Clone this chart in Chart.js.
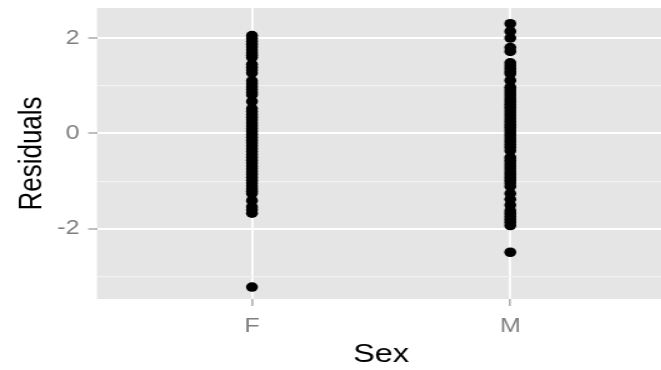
<!DOCTYPE html>
<html>
<head>
<meta charset="utf-8">
<script src="https://cdn.jsdelivr.net/npm/chart.js@4"></script>
<style>
  html, body { margin: 0; padding: 0; background: #fff; overflow: hidden; }
  /* the original picture is stretched sideways, so the whole chart is scaled in x */
  #wrap { width: 537px; height: 370px; transform: scaleX(1.25); transform-origin: 0 0; }
</style>
</head>
<body>
<div id="wrap"><canvas id="residChart" width="537" height="370"></canvas></div>
<script>
// Categories on the x axis
let sexLabels = ['F', 'M'];

// Residuals, female group
let residF = [
  2.05, 1.99, 1.93, 1.87, 1.81, 1.75, 1.69, 1.64, 1.59,
  1.45, 1.39, 1.33, 1.27,
  1.10, 1.04, 0.98, 0.92, 0.86, 0.81,
  0.67,
  0.52, 0.46, 0.40, 0.34, 0.28, 0.22, 0.16, 0.10, 0.04,
  -0.02, -0.08, -0.14, -0.20, -0.26, -0.32, -0.38, -0.44, -0.50,
  -0.56, -0.62, -0.68, -0.74, -0.80, -0.86, -0.92, -0.98, -1.04,
  -1.10, -1.16, -1.21, -1.26,
  -1.41,
  -1.54, -1.60, -1.67,
  -3.22
];

// Residuals, male group
let residM = [
  2.30, 2.14, 2.00, 1.80, 1.72,
  1.48, 1.42, 1.36, 1.30, 1.25,
  1.11,
  0.97, 0.91, 0.85, 0.79, 0.73, 0.67, 0.61, 0.55, 0.49, 0.43,
  0.37, 0.31, 0.25, 0.19, 0.13, 0.07, 0.01, -0.05, -0.11, -0.17,
  -0.23, -0.29, -0.36,
  -0.50, -0.56, -0.62, -0.68, -0.74, -0.80, -0.86, -0.92, -0.98, -1.04, -1.11,
  -1.26, -1.38, -1.50,
  -1.62, -1.68, -1.74, -1.80, -1.86, -1.93,
  -2.49
];

// y axis ticks shown as labels
let yTickLabels = [-2, 0, 2];

const fontFamily = "'Liberation Sans', Arial, sans-serif";

// grey panel behind the plot, ggplot style
const panelBg = {
  id: 'panelBg',
  beforeDraw(chart) {
    const a = chart.chartArea;
    const c = chart.ctx;
    c.save();
    c.fillStyle = '#e5e5e5';
    c.fillRect(a.left, a.top, a.right - a.left, a.bottom - a.top);
    c.restore();
  }
};

function toPoints(x, values) {
  return values.map(v => ({ x: x, y: v }));
}

let ctx = document.getElementById('residChart').getContext('2d');
let residChart = new Chart(ctx, {
  type: 'scatter',
  data: {
    datasets: [
      { label: sexLabels[0], data: toPoints(1, residF) },
      { label: sexLabels[1], data: toPoints(2, residM) }
    ]
  },
  options: {
    responsive: false,
    animation: false,
    layout: { padding: { top: 8, right: 0, bottom: 0, left: 0 } },
    elements: {
      point: { radius: 4.8, backgroundColor: '#000', borderColor: '#000', borderWidth: 0, pointStyle: 'circle' }
    },
    plugins: { legend: { display: false }, tooltip: { enabled: false } },
    scales: {
      x: {
        type: 'linear',
        min: 0.4,
        max: 2.6,
        afterBuildTicks: s => { s.ticks = sexLabels.map((l, i) => ({ value: i + 1 })); },
        afterFit: s => { s.height = 71; s.paddingLeft = 0; s.paddingRight = 0; },
        border: { display: false },
        grid: { color: '#ffffff', lineWidth: 1.8, tickColor: '#7f7f7f', tickLength: 7, tickWidth: 1 },
        ticks: {
          padding: 8,
          color: '#7f7f7f',
          font: { family: fontFamily, size: 20 },
          callback: v => sexLabels[Math.round(v) - 1]
        },
        title: { display: true, text: 'Sex', color: '#000', font: { family: fontFamily, size: 26 }, padding: { top: 0, bottom: 0 } }
      },
      y: {
        min: -3.47,
        max: 2.63,
        afterFit: s => { s.width = 77.6; s.paddingTop = 0; s.paddingBottom = 0; },
        border: { display: false },
        grid: {
          color: c => (yTickLabels.includes(c.tick.value) ? '#ffffff' : '#f2f2f2'),
          lineWidth: c => (yTickLabels.includes(c.tick.value) ? 2 : 1.2),
          tickColor: c => (yTickLabels.includes(c.tick.value) ? '#7f7f7f' : 'rgba(0,0,0,0)'),
          tickLength: 7,
          tickWidth: 1
        },
        ticks: {
          stepSize: 1,
          includeBounds: false,
          padding: 7,
          color: '#7f7f7f',
          font: { family: fontFamily, size: 20 },
          callback: v => (yTickLabels.includes(v) ? String(v) : '')
        },
        title: { display: true, text: 'Residuals', color: '#000', font: { family: fontFamily, size: 26 }, padding: { top: 10, bottom: 0 } }
      }
    }
  },
  plugins: [panelBg]
});
</script>
</body>
</html>
